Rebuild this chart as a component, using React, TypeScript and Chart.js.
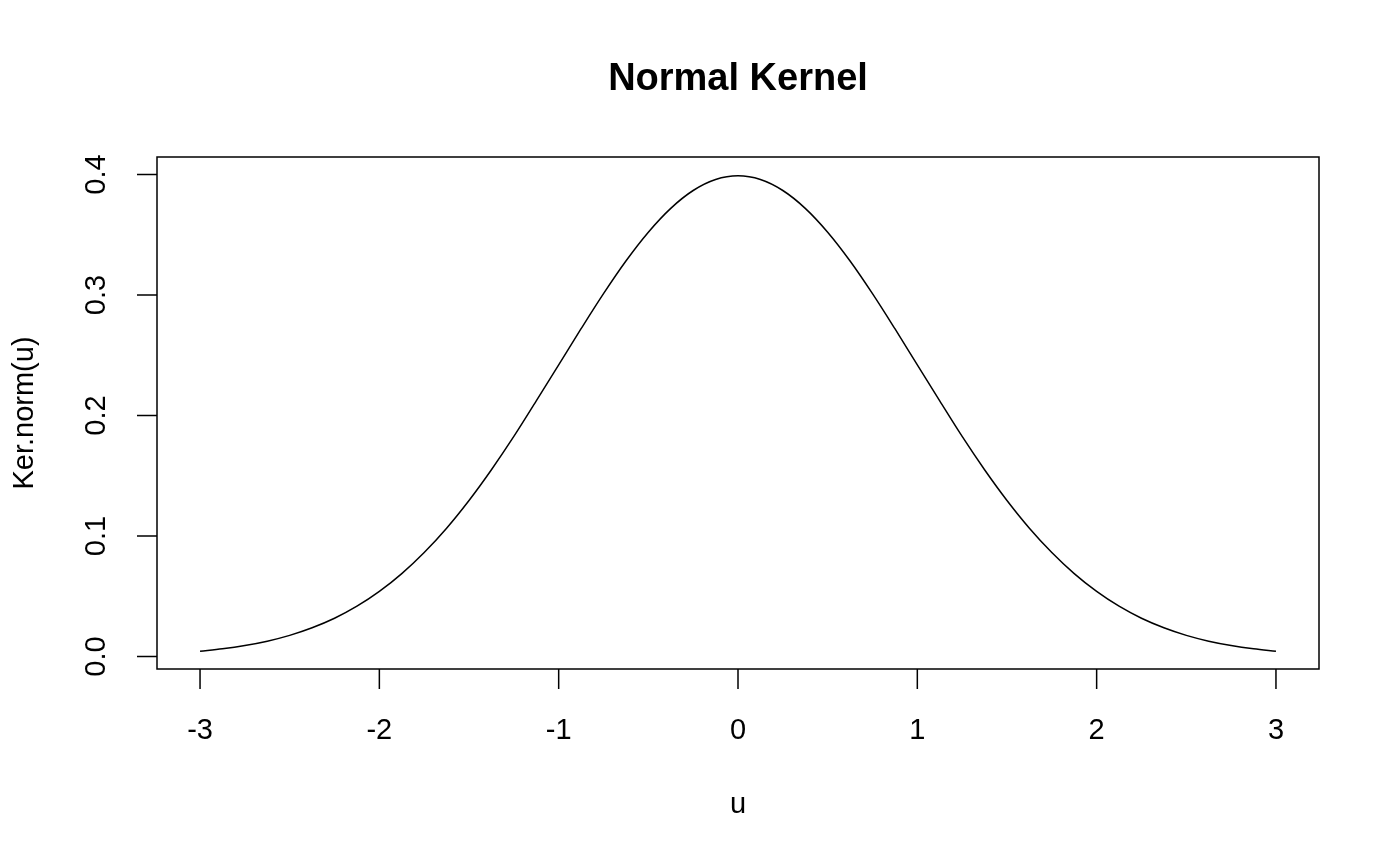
import React, { useEffect, useRef } from "react";
import { Chart, registerables } from "chart.js";

Chart.register(...registerables);

const chartTitle = "Normal Kernel";
const xAxisTitle = "u";
const yAxisTitle = "Ker.norm(u)";

const uValues = [
  -3.0, -2.875, -2.75, -2.625, -2.5, -2.375, -2.25, -2.125, -2.0, -1.875, -1.75, -1.625, -1.5,
  -1.375, -1.25, -1.125, -1.0, -0.875, -0.75, -0.625, -0.5, -0.375, -0.25, -0.125, 0.0,
  0.125, 0.25, 0.375, 0.5, 0.625, 0.75, 0.875, 1.0, 1.125, 1.25, 1.375, 1.5, 1.625, 1.75,
  1.875, 2.0, 2.125, 2.25, 2.375, 2.5, 2.625, 2.75, 2.875, 3.0,
];

const kerValues = [
  0.0044, 0.0064, 0.0091, 0.0127, 0.0175, 0.0238, 0.0317, 0.0417, 0.054, 0.0688, 0.0863, 0.1065, 0.1295,
  0.155, 0.1826, 0.2121, 0.242, 0.272, 0.3011, 0.3282, 0.3521, 0.3719, 0.3867, 0.3958, 0.3989,
  0.3958, 0.3867, 0.3719, 0.3521, 0.3282, 0.3011, 0.272, 0.242, 0.2121, 0.1826, 0.155, 0.1295, 0.1065, 0.0863,
  0.0688, 0.054, 0.0417, 0.0317, 0.0238, 0.0175, 0.0127, 0.0091, 0.0064, 0.0044,
];

const xTickValues = [-3, -2, -1, 0, 1, 2, 3];
const xTickLabels = ["-3", "-2", "-1", "0", "1", "2", "3"];
const yTickValues = [0, 0.1, 0.2, 0.3, 0.4];
const yTickLabels = ["0.0", "0.1", "0.2", "0.3", "0.4"];

const FONT = '"Liberation Sans", Arial, Helvetica, sans-serif';

const baseAxesPlugin = {
  id: "baseAxes",
  afterDraw(chart: any) {
    const { ctx, chartArea } = chart;
    const xs = chart.scales.x;
    const ys = chart.scales.y;
    const { left, right, top, bottom } = chartArea;
    ctx.save();
    ctx.strokeStyle = "#000";
    ctx.fillStyle = "#000";
    ctx.lineWidth = 1.5;
    // box
    ctx.strokeRect(left, top, right - left, bottom - top);
    const tick = 20;
    // x axis ticks
    ctx.beginPath();
    xTickValues.forEach((v) => {
      const px = xs.getPixelForValue(v);
      ctx.moveTo(px, bottom);
      ctx.lineTo(px, bottom + tick);
    });
    // y axis ticks
    yTickValues.forEach((v) => {
      const py = ys.getPixelForValue(v);
      ctx.moveTo(left, py);
      ctx.lineTo(left - tick, py);
    });
    ctx.stroke();

    ctx.font = `29px ${FONT}`;
    ctx.textAlign = "center";
    ctx.textBaseline = "middle";
    xTickValues.forEach((v, i) => {
      ctx.fillText(xTickLabels[i], xs.getPixelForValue(v), 731);
    });
    yTickValues.forEach((v, i) => {
      ctx.save();
      ctx.translate(97, ys.getPixelForValue(v));
      ctx.rotate(-Math.PI / 2);
      ctx.fillText(yTickLabels[i], 0, 0);
      ctx.restore();
    });
    // axis titles
    ctx.fillText(xAxisTitle, (left + right) / 2, 805);
    ctx.save();
    ctx.translate(25, (top + bottom) / 2);
    ctx.rotate(-Math.PI / 2);
    ctx.fillText(yAxisTitle, 0, 0);
    ctx.restore();
    // main title
    ctx.font = `bold 38px ${FONT}`;
    ctx.fillText(chartTitle, (left + right) / 2, 80);
    ctx.restore();
  },
};

export default function App() {
  const canvasRef = useRef<HTMLCanvasElement | null>(null);

  useEffect(() => {
    document.body.style.margin = "0";
    const canvas = canvasRef.current;
    if (!canvas) return;
    const chart = new Chart(canvas, {
      type: "line",
      data: {
        labels: uValues,
        datasets: [
          {
            data: uValues.map((u, i) => ({ x: u, y: kerValues[i] })),
            borderColor: "#000",
            borderWidth: 1.5,
            pointRadius: 0,
            fill: false,
            cubicInterpolationMode: "monotone",
          },
        ],
      },
      plugins: [baseAxesPlugin],
      options: {
        animation: false,
        responsive: false,
        maintainAspectRatio: false,
        devicePixelRatio: 1,
        layout: { padding: { left: 157, right: 81, top: 157, bottom: 197 } },
        plugins: {
          legend: { display: false },
          title: { display: false },
          tooltip: { enabled: false },
        },
        scales: {
          x: { type: "linear", min: -3.24, max: 3.24, display: false },
          y: { type: "linear", min: -0.0104, max: 0.4145, display: false },
        },
      },
    });
    return () => chart.destroy();
  }, []);

  return (
    <div style={{ position: "fixed", left: 0, top: 0, width: 1400, height: 866, background: "#fff" }}>
      <canvas ref={canvasRef} width={1400} height={866} style={{ width: 1400, height: 866 }} />
    </div>
  );
}
